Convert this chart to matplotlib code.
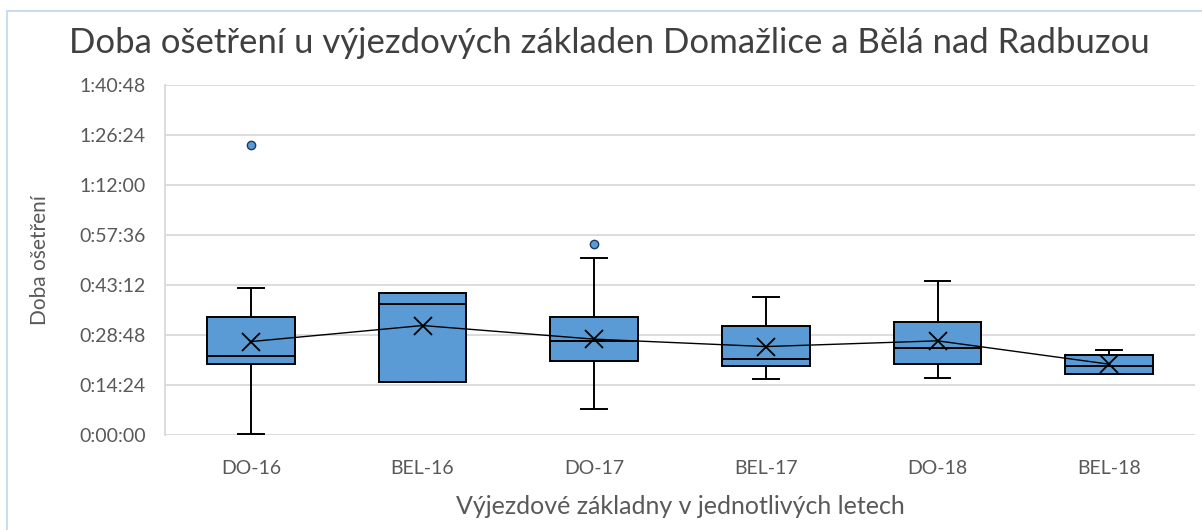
"""
Box plot of treatment time at the Domazlice and Bela nad Radbuzou stations
"""
import matplotlib
import matplotlib.pyplot as plt
from matplotlib.patches import Rectangle
from matplotlib.ticker import FuncFormatter, MultipleLocator

matplotlib.use("Agg")

# values in seconds
stations = ["DO-16", "BEL-16", "DO-17", "BEL-17", "DO-18", "BEL-18"]
whisker_low = [22, 916, 449, 978, 985, 1064]
q1 = [1227, 916, 1279, 1198, 1227, 1064]
median = [1370, 2269, 1630, 1324, 1503, 1198]
q3 = [2049, 2454, 2049, 1894, 1958, 1393]
whisker_high = [2540, 2454, 3064, 2385, 2661, 1474]
mean = [1617, 1894, 1659, 1531, 1630, 1227]
outliers = [[5004], [], [3306], [], [], []]

BLUE = "#5B9BD5"
GRID = "#D9D9D9"
TEXT = "#595959"

plt.rcParams["font.family"] = ["Lato", "DejaVu Sans"]


def hms(value, _pos=None):
    """format seconds as h:mm:ss like Excel does"""
    value = int(round(value))
    return f"{value // 3600}:{value % 3600 // 60:02d}:{value % 60:02d}"


stats = []
for i, name in enumerate(stations):
    stats.append(
        {
            "label": name,
            "whislo": whisker_low[i],
            "q1": q1[i],
            "med": median[i],
            "q3": q3[i],
            "whishi": whisker_high[i],
            "mean": mean[i],
            "fliers": outliers[i],
        }
    )

fig = plt.figure(figsize=(12.02, 5.30), dpi=100)
ax = fig.add_axes([0.1373, 0.1787, 0.8569, 0.6613])

positions = list(range(len(stations)))
ax.bxp(
    stats,
    positions=positions,
    widths=0.51,
    capwidths=0.15,
    patch_artist=True,
    showmeans=True,
    meanline=False,
    boxprops={"facecolor": BLUE, "edgecolor": "black", "linewidth": 1.4},
    medianprops={"color": "black", "linewidth": 1.4},
    whiskerprops={"color": "black", "linewidth": 1.4},
    capprops={"color": "black", "linewidth": 1.4},
    meanprops={
        "marker": "x",
        "markersize": 13,
        "markeredgecolor": "black",
        "markeredgewidth": 1.3,
    },
    flierprops={
        "marker": "o",
        "markersize": 6,
        "markerfacecolor": BLUE,
        "markeredgecolor": "#1F3864",
        "markeredgewidth": 1.0,
    },
    zorder=3,
)
# mean line joining the crosses
ax.plot(positions, mean, color="black", linewidth=1.0, zorder=4)

ax.set_xlim(-0.5, len(stations) - 0.5)
ax.set_ylim(0, 6048)
ax.yaxis.set_major_locator(MultipleLocator(864))
ax.yaxis.set_major_formatter(FuncFormatter(hms))
ax.set_xticks(positions, stations)

ax.grid(axis="y", color=GRID, linewidth=1.3, zorder=0)
for side in ["top", "right", "bottom"]:
    ax.spines[side].set_visible(False)
ax.spines["left"].set_color(GRID)
ax.spines["left"].set_linewidth(1.3)
ax.tick_params(axis="both", length=0, labelsize=14, labelcolor=TEXT)
ax.tick_params(axis="y", pad=14)
ax.tick_params(axis="x", pad=18)

ax.set_ylabel("Doba ošetření", fontsize=15, color=TEXT)
ax.yaxis.set_label_coords(-0.112, 0.5)
ax.set_xlabel("Výjezdové základny v jednotlivých letech", fontsize=18, color=TEXT)
ax.xaxis.set_label_coords(0.5, -0.17)

fig.text(
    0.507,
    0.9,
    "Doba ošetření u výjezdových základen Domažlice a Bělá nad Radbuzou",
    ha="center",
    va="baseline",
    fontsize=25,
    color="#404040",
)

# light blue chart border, cut off on the right and bottom like the screenshot
fig.patches.append(
    Rectangle(
        (7 / 1202, -0.1),
        1.2,
        (530 - 11) / 530 + 0.1,
        transform=fig.transFigure,
        fill=False,
        edgecolor="#BDD7EE",
        linewidth=1.2,
    )
)

fig.savefig("out.png", dpi=100)
